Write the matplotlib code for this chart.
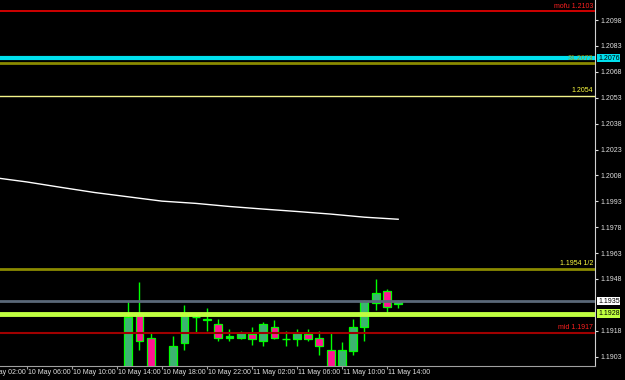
import matplotlib.pyplot as plt
import matplotlib.transforms as mtransforms

plt.rcParams['font.family'] = ['Liberation Sans', 'DejaVu Sans']

# hourly candles, x = hours since 10 May 00:00
hours = [15, 16, 17, 19, 20, 21, 22, 23, 24, 25, 26, 27,
         28, 29, 30, 31, 32, 33, 34, 35, 36, 37, 38, 39]
opens = [1.1895, 1.1927, 1.1914, 1.1893, 1.1911, 1.1926, 1.1925, 1.1922,
         1.1914, 1.1914, 1.1916, 1.1912, 1.1920, 1.1913, 1.1913, 1.1916,
         1.1914, 1.1907, 1.1894, 1.1906, 1.1920, 1.1934, 1.1941, 1.19335]
highs = [1.1935, 1.1946, 1.1917, 1.1915, 1.1933, 1.1928, 1.1931, 1.1925,
         1.1919, 1.1918, 1.1920, 1.1923, 1.1924, 1.1918, 1.1919, 1.1919,
         1.1918, 1.1917, 1.19115, 1.1925, 1.1936, 1.1948, 1.1942, 1.1936]
lows = [1.1888, 1.1907, 1.1888, 1.1888, 1.1907, 1.1917, 1.1918, 1.1912,
        1.1912, 1.1913, 1.1910, 1.1909, 1.1913, 1.1909, 1.1909, 1.1912,
        1.1904, 1.1889, 1.1890, 1.1904, 1.1912, 1.1930, 1.1929, 1.1931]
closes = [1.1926, 1.1912, 1.1893, 1.1909, 1.1927, 1.1926, 1.1924, 1.1914,
          1.1915, 1.1917, 1.1913, 1.1922, 1.1914, 1.1913, 1.1917, 1.1913,
          1.1909, 1.1894, 1.1907, 1.1920, 1.1935, 1.1940, 1.1932, 1.1935]

# moving average
ma_hours = [3, 6, 9, 12, 15, 18, 21, 24, 27, 30, 33, 36, 39]
ma_vals = [1.20068, 1.20042, 1.20011, 1.19981, 1.19956, 1.19931, 1.19918,
           1.19900, 1.19885, 1.19871, 1.19856, 1.19838, 1.19826]

# horizontal levels: price, color, width, label, label color
levels = [
    (1.2103, '#e00000', 1.3, 'mofu 1.2103', '#ff2020'),
    (1.2076, '#00e0ee', 3.0, None, None),
    (1.2073, '#8a8a00', 2.0, '31.2073', '#9a9a10'),
    (1.2054, '#f4f48a', 1.0, '1.2054', '#ffff40'),
    (1.1954, '#8a8a00', 2.0, '1.1954 1/2', '#ffff40'),
    (1.1935, '#5a6878', 2.0, None, None),
    (1.1928, '#c0ff40', 3.5, None, None),
    (1.1917, '#a00000', 1.5, 'mid 1.1917', '#ff2020'),
]
price_boxes = [(1.2076, '#00e0ee'), (1.1935, '#ffffff'), (1.1928, '#c0ff40')]

# 1.1933 sits under the price boxes, so it is left out
ytick_vals = [1.1903, 1.1918, 1.1948, 1.1963, 1.1978, 1.1993, 1.2008,
              1.2023, 1.2038, 1.2053, 1.2068, 1.2083, 1.2098]
xtick_hours = [2, 6, 10, 14, 18, 22, 26, 30, 34, 38]
xtick_labels = ['10 May 02:00', '10 May 06:00', '10 May 10:00', '10 May 14:00',
                '10 May 18:00', '10 May 22:00', '11 May 02:00', '11 May 06:00',
                '11 May 10:00', '11 May 14:00']

fig = plt.figure(figsize=(6.25, 3.8), dpi=100, facecolor='black')
ax = fig.add_axes([0, 14 / 380, 595 / 625, 366 / 380])
ax.set_facecolor('black')
ax.set_xlim(3.6, 56.5)
ax.set_ylim(1.18976, 1.21096)

# candles
for h, o, hi, lo, c in zip(hours, opens, highs, lows, closes):
    ax.vlines(h, lo, hi, color='#00ff00', lw=1, zorder=2)
    if o == c:
        ax.hlines(o, h - 0.35, h + 0.35, color='#00ff00', lw=1, zorder=3)
        continue
    fill = '#3cb371' if c > o else '#ff1493'
    ax.bar(h, abs(c - o), bottom=min(o, c), width=0.7, color=fill,
           edgecolor='#00ff00', linewidth=0.9, zorder=3)

ax.plot(ma_hours, ma_vals, color='white', lw=1, zorder=2)

trans = mtransforms.blended_transform_factory(ax.transAxes, ax.transData)
for price, col, lw, lab, tcol in levels:
    ax.axhline(price, color=col, lw=lw, zorder=4)
    if lab:
        ax.annotate(lab, xy=(593 / 595, price), xycoords=trans,
                    xytext=(0, 1.5), textcoords='offset pixels',
                    ha='right', va='bottom', fontsize=5, color=tcol, zorder=5)

for price, col in price_boxes:
    ax.text(1 + 3 / 595, price, '%.4f' % price, transform=trans, ha='left',
            va='center', fontsize=5, color='black', clip_on=False, zorder=10,
            bbox=dict(boxstyle='square,pad=0.08', fc=col, ec='none'))

# axes styling
for side in ['top', 'left']:
    ax.spines[side].set_visible(False)
ax.spines['right'].set_color('#d0d0d0')
ax.spines['bottom'].set_color('#a0a0a0')
ax.yaxis.tick_right()
ax.set_yticks(ytick_vals)
ax.set_yticklabels(['%.4f' % v for v in ytick_vals])
ax.tick_params(axis='y', colors='#e0e0e0', labelsize=5, length=2, pad=2)
ax.set_xticks(xtick_hours[1:])
ax.set_xticklabels([])
ax.tick_params(axis='x', colors='#a0a0a0', length=2)

for h, lab in zip(xtick_hours, xtick_labels):
    ax.annotate(lab, xy=(h, 0), xycoords=('data', 'axes fraction'),
                xytext=(1, -7), textcoords='offset pixels', ha='left',
                va='center', fontsize=5, color='#e0e0e0',
                annotation_clip=False)

fig.savefig('out.png', dpi=100, facecolor='black')
